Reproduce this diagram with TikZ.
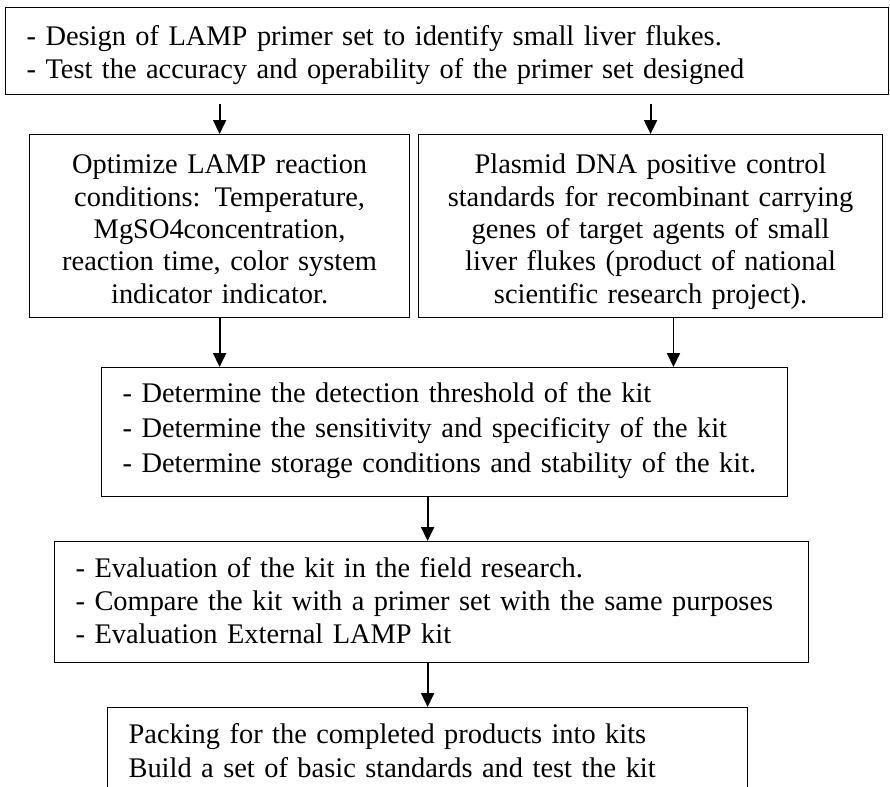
\documentclass[tikz,border=0pt]{standalone}
\usepackage{fontspec}
\setmainfont{Liberation Serif}
\usetikzlibrary{arrows.meta,positioning}
\tikzset{box/.style 2 args={draw, line width=0.5pt, rectangle, anchor=north west, inner ysep=0pt,
	execute at begin node={\rule{0pt}{#1}}, execute at end node={\rule[-#2]{0pt}{#2}}}}
\tikzset{line/.style={draw, line width=0.8pt, -{Triangle[length=5.7pt,width=5.3pt]}}}

\begin{document}
\begin{tikzpicture}[x=0.41pt,y=-0.41pt]
\clip (0,0) rectangle (890,786);
\node [box={15.6pt}{6.6pt}, text width=344.8pt, inner xsep=8.6pt, align=left, font=\fontsize{11.65}{13.5}\selectfont] (plan) at (5,7)
	{- Design of LAMP primer set to identify small liver flukes.\\
	 - Test the accuracy and operability of the primer set designed};
\node [box={16pt}{5.7pt}, text width=147.8pt, inner xsep=4pt, align=center, font=\fontsize{11.65}{13.3}\selectfont] (opt) at (29,134)
	{Optimize LAMP reaction\\ conditions: Temperature,\\ MgSO4concentration,\\ reaction time, color system\\ indicator indicator.};
\node [box={16pt}{5.7pt}, text width=182.2pt, inner xsep=4pt, align=center, font=\fontsize{11.65}{13.3}\selectfont] (ctrl) at (418,134)
	{Plasmid DNA positive control\\ standards for recombinant carrying\\ genes of target agents of small\\ liver flukes (product of national\\ scientific research project).};
\node [box={14.35pt}{9.85pt}, text width=264pt, inner xsep=8.6pt, align=left, font=\fontsize{11.65}{14.35}\selectfont] (test) at (101,367)
	{- Determine the detection threshold of the kit\\
	 - Determine the sensitivity and specificity of the kit\\
	 - Determine storage conditions and stability of the kit.};
\node [box={14.8pt}{7.8pt}, text width=292pt, inner xsep=8.6pt, align=left, font=\fontsize{11.65}{13.5}\selectfont] (eval) at (54,541)
	{- Evaluation of the kit in the field research.\\
	 - Compare the kit with a primer set with the same purposes\\
	 - Evaluation External LAMP kit};
\node [box={14.8pt}{30pt}, text width=245.2pt, inner xsep=8.6pt, align=left, font=\fontsize{11.65}{13.9}\selectfont] (pack) at (107,707)
	{Packing for the completed products into kits\\
	 Build a set of basic standards and test the kit};
%
\coordinate (c1) at ([xshift=9.4pt]ctrl.south);
\path [line, shorten <=3.7pt] (plan.south -| opt.north) -- (opt.north);
\path [line, shorten <=3.7pt] (plan.south -| ctrl.north) -- (ctrl.north);
\path [line] (opt.south) -- (opt.south |- test.north);
\path [line] (c1) -- (c1 |- test.north);
\path [line] (pack.north |- test.south) -- (pack.north |- eval.north);
\path [line] (pack.north |- eval.south) -- (pack.north);
\end{tikzpicture}
\end{document}
